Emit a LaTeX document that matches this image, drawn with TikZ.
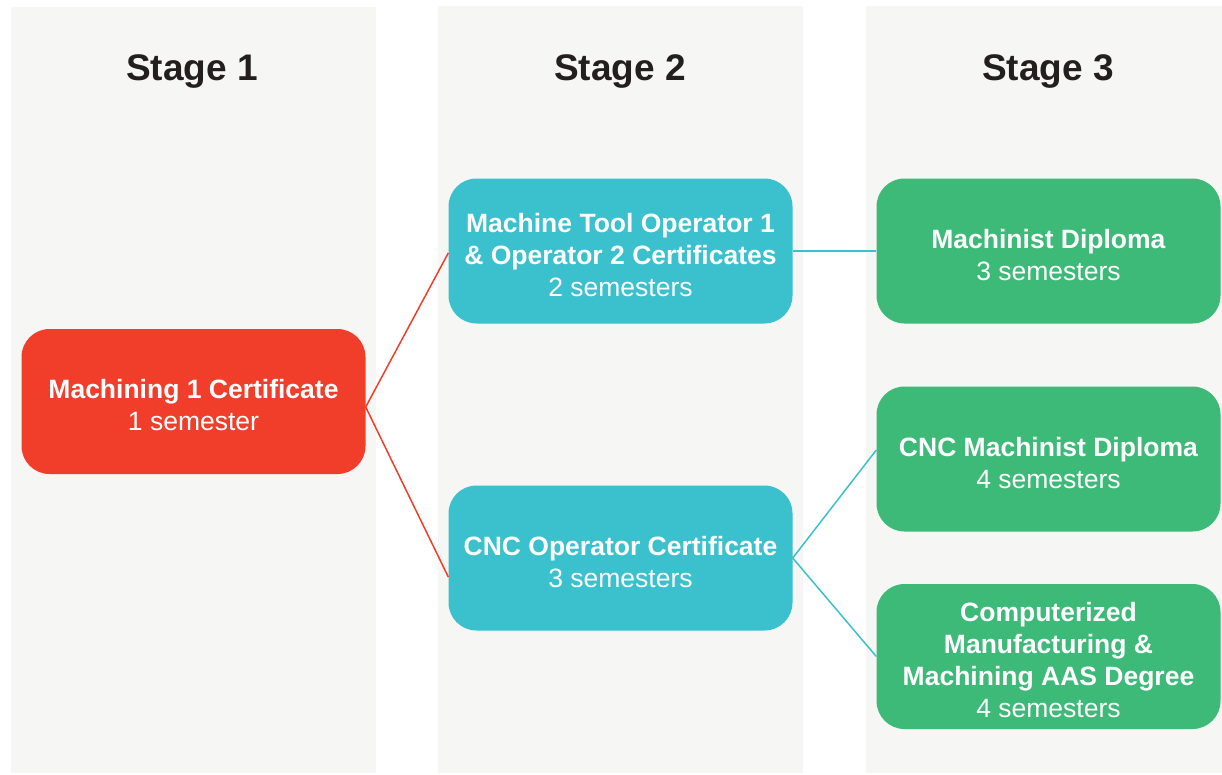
\documentclass[tikz,border=0pt]{standalone}
\usepackage{fontspec}
\setmainfont{Liberation Sans}
\usepackage{xcolor}
\usepackage{tikz}
\usetikzlibrary{positioning}
\definecolor{colbg}{HTML}{F6F6F4}
\definecolor{redbox}{HTML}{F03E2B}
\definecolor{tealbox}{HTML}{3AC1CD}
\definecolor{greenbox}{HTML}{3DBA78}
\definecolor{titlec}{HTML}{231F20}
\newcommand{\topgap}{\rule{0pt}{27pt}}
\tikzset{
    col/.style={fill=colbg, draw=none},
    title/.style={anchor=base, text=titlec, font=\fontsize{37}{44}\selectfont\bfseries},
    box/.style={rectangle, rounded corners=28pt, minimum width=344pt, minimum height=145pt, inner sep=0pt, align=center, text=white, font=\fontsize{26.5}{32}\selectfont},
    first/.style={box, fill=redbox},
    second/.style={box, fill=tealbox},
    third/.style={box, fill=greenbox},
    redlink/.style={draw=redbox, line width=1.5pt},
    teallink/.style={draw=tealbox, line width=1.5pt},
}
\begin{document}
\begin{tikzpicture}[x=1pt, y=-1pt]
                    \useasboundingbox (0,0) rectangle (1222,774);
                    % columns
                    \fill [col] (11,7) rectangle (376,773);
                    \fill [col] (438,6) rectangle (803,773);
                    \fill [col] (866,6) rectangle (1222,773);
                    \node [title] (s1) at (192,80) {Stage 1};
                    \node [title] (s2) at (620,80) {Stage 2};
                    \node [title] (s3) at (1048,80) {Stage 3};
                    % boxes
                    \node [first] (mach) at (193.5,401.5) {\topgap\textbf{Machining 1 Certificate}\\1 semester};
                    \node [second] (mto) at (620.5,251) {\topgap\textbf{Machine Tool Operator 1}\\\textbf{\& Operator 2 Certificates}\\2 semesters};
                    \node [second] (cncop) at (620.5,558) {\topgap\textbf{CNC Operator Certificate}\\3 semesters};
                    \node [third] (mdip) at (1048.5,251) {\topgap\textbf{Machinist Diploma}\\3 semesters};
                    \node [third] (cncdip) at (1048.5,459) {\topgap\textbf{CNC Machinist Diploma}\\4 semesters};
                    \node [third] (aas) at (1048.5,656.5) {\topgap\textbf{Computerized}\\\textbf{Manufacturing \&}\\\textbf{Machining AAS Degree}\\4 semesters};
                    % links
                    \draw [redlink] ([yshift=-5.5pt]mach.east) -- ([yshift=-2pt]mto.west);
                    \draw [redlink] ([yshift=-5.5pt]mach.east) -- ([yshift=-19pt]cncop.west);
                    \draw [teallink] (mto.east) -- (mdip.west);
                    \draw [teallink] (cncop.east) -- ([yshift=9pt]cncdip.west);
                    \draw [teallink] (cncop.east) -- (aas.west);
                \end{tikzpicture}
\end{document}
